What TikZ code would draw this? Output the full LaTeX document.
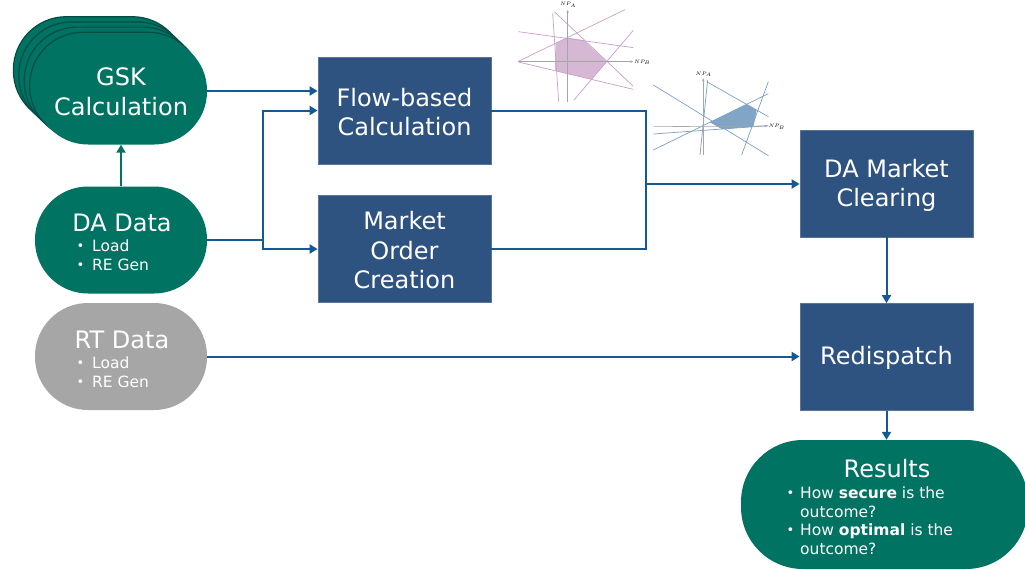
\documentclass[tikz,border=0pt]{standalone}
\usepackage{fontspec}
\setmainfont{DejaVu Sans}
\usetikzlibrary{arrows.meta}
\definecolor{grn}{RGB}{0,115,99}
\definecolor{grnd}{RGB}{0,78,66}
\definecolor{bbox}{RGB}{47,83,128}
\definecolor{bboxe}{RGB}{90,115,150}
\definecolor{gry}{RGB}{166,166,166}
\definecolor{connc}{RGB}{20,88,148}
\definecolor{pk}{RGB}{200,160,200}
\definecolor{pkf}{RGB}{214,184,212}
\definecolor{bl}{RGB}{125,160,195}
\definecolor{blf}{RGB}{128,165,198}
\newcommand{\bul}[1]{\makebox[#1][l]{\hspace*{1.5pt}\raisebox{1pt}{\fontsize{13}{13}\selectfont •}}}
\tikzset{
  stad/.style={rounded corners=53pt, minimum width=172pt, minimum height=107pt, inner sep=0pt},
  gbox/.style={stad, fill=grn},
  bbx/.style={fill=bbox, draw=bboxe, line width=0.8pt, minimum width=173pt, minimum height=107pt, inner sep=0pt},
  big/.style={text=white, font=\fontsize{24}{29.5}\selectfont, align=center, inner sep=0pt},
  small/.style={text=white, font=\fontsize{15.5}{18.5}\selectfont, align=left, inner sep=0pt, anchor=west},
  conn/.style={draw=connc, line width=2pt, -{Triangle[length=8pt,width=9pt]}},
  plain/.style={draw=connc, line width=2pt},
  pkl/.style={draw=pk, line width=0.7pt},
  bll/.style={draw=bl, line width=0.7pt},
  axl/.style={draw=gray!70, line width=0.6pt},
  axlab/.style={font=\fontsize{5.5}{6}\selectfont, inner sep=0pt, text=black},
}
\begin{document}
\begin{tikzpicture}[x=1pt,y=-1pt]
\useasboundingbox[fill=white] (0,0) rectangle (1025,570);

% GSK stack
\foreach \k in {4,3,2,1} {
  \node[gbox, draw=grnd, line width=1.2pt] (gskb\k) at ({121-5.4*\k},{91-5.2*\k}) {};
}
\node[gbox] (gsk) at (121,91) {};
\node[big] (tgsk) at (121,92) {GSK\\Calculation};

% DA data
\node[gbox] (da) at (121,240) {};
\node[big] (tda) at (122,223) {DA Data};
\node[small] (bda) at (75,255) {\bul{17pt}Load\\\bul{17pt}RE Gen};

% RT data
\node[stad, fill=gry] (rt) at (121,356.5) {};
\node[big] (trt) at (122,340) {RT Data};
\node[small] (brt) at (75,372) {\bul{17pt}Load\\\bul{17pt}RE Gen};

% Boxes
\node[bbx] (flow) at (404.5,110.5) {};
\node[big] (tflow) at (404.5,112) {Flow-based\\Calculation};
\node[bbx] (moc) at (404.5,249) {};
\node[big] (tmoc) at (404.5,250.5) {Market\\Order\\Creation};
\node[bbx] (dam) at (886.5,183.5) {};
\node[big] (tdam) at (886.5,185.5) {DA Market\\Clearing};
\node[bbx] (red) at (886.5,357) {};
\node[big] (tred) at (886.5,358) {Redispatch};

% Results
\node[fill=grn, rounded corners=62pt, minimum width=287pt, minimum height=129pt, inner sep=0pt] (res) at (884.5,504.5) {};
\node[big] (tres) at (887,469) {Results};
\node[small] (bres) at (785,520.5) {\bul{15pt}How \textbf{secure} is the\\\hspace*{15pt}outcome?\\\bul{15pt}How \textbf{optimal} is the\\\hspace*{15pt}outcome?};

% connectors
\coordinate (j1) at (263,240);
\coordinate (j2) at (646,184);
\draw[conn, draw=grn] (da.north) -- (gsk.south);
\draw[conn] (gsk.east) -- (gsk.east -| flow.west);
\draw[plain] (da.east) -- (j1);
\draw[conn] (j1) |- (flow.west);
\draw[conn] (j1) |- (moc.west);
\draw[plain] (flow.east) -| (j2) |- (moc.east);
\draw[conn] (j2) -- (j2 -| dam.west);
\draw[conn] (dam.south) -- (red.north);
\draw[conn] (rt.east) -- (rt.east -| red.west);
\draw[conn] (red.south) -- (red.south |- res.north);

% pink polytope
\begin{scope}[shift={(510,0)}, x=0.3333pt, y=-0.3333pt]
  \fill[pkf] (137,130) -- (172,113) -- (220,120) -- (290,185) -- (245,238) -- (135,212) -- cycle;
  \draw[pkl] (25,95) -- (370,143);
  \draw[pkl] (25,186) -- (370,268);
  \draw[pkl] (128,40) -- (146,305);
  \draw[pkl] (25,184) -- (345,29);
  \draw[pkl] (134,36) -- (370,259);
  \draw[pkl] (192,300) -- (370,91);
  \draw[axl, -{Stealth[length=3pt,width=2.5pt]}] (25,185) -- (370,185);
  \draw[axl, -{Stealth[length=3pt,width=2.5pt]}] (173,305) -- (173,30);
  \node[axlab] (pna) at (174,15) {$NP_A$};
  \node[axlab, anchor=west] (pnb) at (372,187) {$NP_B$};
\end{scope}

% blue polytope
\begin{scope}[shift={(645,65)}, x=0.3333pt, y=-0.3333pt]
  \fill[blf] (195,172) -- (305,118) -- (335,135) -- (325,185) -- (230,192) -- cycle;
  \draw[bll] (25,60) -- (370,272);
  \draw[bll] (185,50) -- (370,155);
  \draw[bll] (25,207) -- (370,182);
  \draw[bll] (25,255) -- (370,86);
  \draw[bll] (290,270) -- (370,50);
  \draw[bll] (165,270) -- (188,45);
  \draw[axl, -{Stealth[length=3pt,width=2.5pt]}] (25,185) -- (368,183);
  \draw[axl, -{Stealth[length=3pt,width=2.5pt]}] (175,270) -- (175,40);
  \node[axlab] (bna) at (176,28) {$NP_A$};
  \node[axlab, anchor=west] (bnb) at (370,185) {$NP_B$};
\end{scope}
\end{tikzpicture}
\end{document}
